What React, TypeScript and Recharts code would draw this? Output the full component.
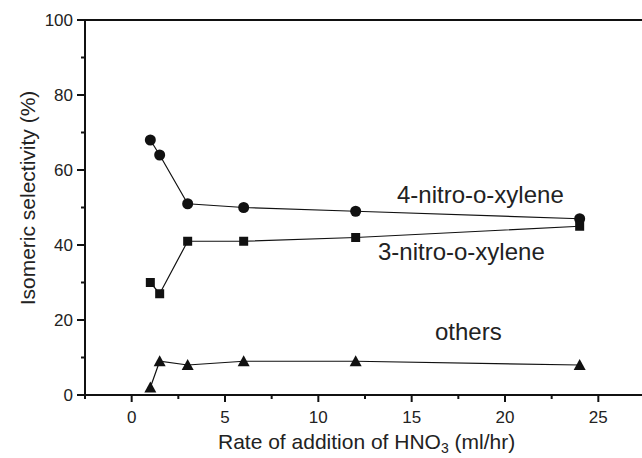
import { LineChart, Line, XAxis, YAxis, ReferenceLine } from "recharts";

const rates = [1, 1.5, 3, 6, 12, 24];
const para = [68, 64, 51, 50, 49, 47];
const meta = [30, 27, 41, 41, 42, 45];
const others = [2, 9, 8, 9, 9, 8];

const xTicks = [-2.5, 0, 2.5, 5, 7.5, 10, 12.5, 15, 17.5, 20, 22.5, 25, 27.5];
const yTicks = [0, 10, 20, 30, 40, 50, 60, 70, 80, 90, 100];

const data = rates.map((r, i) => ({
  rate: r,
  para: para[i],
  meta: meta[i],
  others: others[i],
}));

const INK = "#111";
const FONT = "'Liberation Sans', Arial, sans-serif";

const XTick = ({ x, y, payload }: any) => {
  const v = payload.value;
  const major = v % 5 === 0;
  return (
    <g>
      <line x1={x} x2={x} y1={y} y2={y + (major ? 7 : 4)} stroke={INK} strokeWidth={2} />
      {major && (
        <text x={x} y={y + 28} textAnchor="middle" fontSize={17} fill="#222" fontFamily={FONT}>
          {v}
        </text>
      )}
    </g>
  );
};

const YTick = ({ x, y, payload }: any) => {
  const v = payload.value;
  const major = v % 20 === 0;
  return (
    <g>
      <line x1={x - (major ? 8 : 4)} x2={x} y1={y} y2={y} stroke={INK} strokeWidth={2} />
      {major && (
        <text x={x - 12} y={y} textAnchor="end" dominantBaseline="central" fontSize={17} fill="#222" fontFamily={FONT}>
          {v}
        </text>
      )}
    </g>
  );
};

const CircleDot = ({ cx, cy, index }: any) => (
  <circle key={`c-${index}`} cx={cx} cy={cy} r={5.5} fill={INK} />
);
const SquareDot = ({ cx, cy, index }: any) => (
  <rect key={`s-${index}`} x={cx - 4.5} y={cy - 4.5} width={9} height={9} fill={INK} />
);
const TriangleDot = ({ cx, cy, index }: any) => (
  <polygon key={`t-${index}`} points={`${cx},${cy - 6} ${cx - 6},${cy + 5} ${cx + 6},${cy + 5}`} fill={INK} />
);

export default function App() {
  return (
    <div style={{ position: "absolute", left: 0, top: 0, width: 642, height: 458, overflow: "hidden", background: "#fff" }}>
      <LineChart width={660} height={458} data={data} margin={{ top: 20, right: 15, bottom: 23, left: 0 }}>
        <XAxis
          dataKey="rate"
          type="number"
          domain={[-2.5, 27.5]}
          ticks={xTicks}
          interval={0}
          height={40}
          tickSize={0}
          tickMargin={0}
          tickLine={false}
          tick={<XTick />}
          axisLine={{ stroke: INK, strokeWidth: 2 }}
          allowDataOverflow
        />
        <YAxis
          type="number"
          domain={[0, 100]}
          ticks={yTicks}
          interval={0}
          width={85}
          tickSize={0}
          tickMargin={0}
          tickLine={false}
          tick={<YTick />}
          axisLine={{ stroke: INK, strokeWidth: 2 }}
          allowDataOverflow
        />
        <ReferenceLine y={100} stroke={INK} strokeWidth={2} />
        <Line dataKey="para" type="linear" stroke={INK} strokeWidth={1.2} dot={CircleDot} isAnimationActive={false} />
        <Line dataKey="meta" type="linear" stroke={INK} strokeWidth={1.2} dot={SquareDot} isAnimationActive={false} />
        <Line dataKey="others" type="linear" stroke={INK} strokeWidth={1.2} dot={TriangleDot} isAnimationActive={false} />
      </LineChart>
      <svg width={642} height={458} style={{ position: "absolute", left: 0, top: 0, pointerEvents: "none" }} fontFamily={FONT} fill="#222">
        <text x={397} y={203} fontSize={24}>4-nitro-o-xylene</text>
        <text x={378} y={260} fontSize={24}>3-nitro-o-xylene</text>
        <text x={435} y={340} fontSize={24}>others</text>
        <text x={27} y={198} fontSize={21} textAnchor="middle" dominantBaseline="central" transform="rotate(-90 27 198)">
          Isomeric selectivity (%)
        </text>
        <text x={218} y={449} fontSize={21}>
          Rate of addition of HNO<tspan fontSize={14} dy={4}>3</tspan>
          <tspan dy={-4}> (ml/hr)</tspan>
        </text>
      </svg>
    </div>
  );
}
